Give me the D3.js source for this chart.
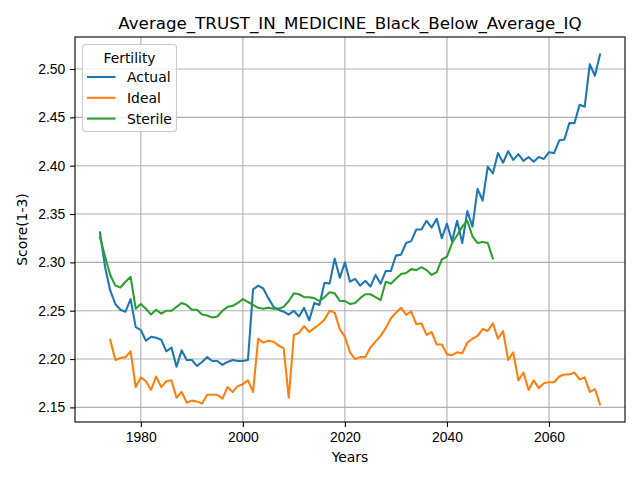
<!DOCTYPE html>
<html>
<head>
<meta charset="utf-8">
<script src="https://cdn.jsdelivr.net/npm/d3@7"></script>
<style>
  body { margin: 0; background: #fff; }
  svg { font-family: "DejaVu Sans", sans-serif; }
  .tick text { font-size: 13.9px; fill: #000; }
  .tick line { stroke: #000; stroke-width: 1.1; }
  .domain { display: none; }
  .grid line { stroke: #b0b0b0; stroke-width: 1.1; }
</style>
</head>
<body>
<svg id="canvas" width="640" height="480"></svg>
<script>
// Chart data
const title = "Average_TRUST_IN_MEDICINE_Black_Below_Average_IQ";
const seriesNames = ["Actual", "Ideal", "Sterile"];
const seriesColors = ["#1f77b4", "#ff7f0e", "#2ca02c"];
const xTicks = [1980, 2000, 2020, 2040, 2060];
const yTicks = [2.15, 2.2, 2.25, 2.3, 2.35, 2.4, 2.45, 2.5];

const actualStart = 1972;
const actual = [
  2.331, 2.295, 2.271, 2.257, 2.251, 2.249, 2.262, 2.233, 2.230, 2.219,
  2.223, 2.222, 2.220, 2.208, 2.212, 2.192, 2.209, 2.199, 2.199, 2.193,
  2.197, 2.202, 2.198, 2.198, 2.194, 2.197, 2.199, 2.198, 2.198, 2.199,
  2.272, 2.276, 2.273, 2.263, 2.254, 2.251, 2.249, 2.246, 2.250, 2.244,
  2.253, 2.240, 2.258, 2.256, 2.279, 2.278, 2.304, 2.284, 2.300, 2.280,
  2.283, 2.276, 2.281, 2.275, 2.287, 2.278, 2.291, 2.291, 2.307, 2.308,
  2.320, 2.322, 2.334, 2.334, 2.343, 2.336, 2.345, 2.325, 2.340, 2.322,
  2.343, 2.320, 2.353, 2.337, 2.376, 2.364, 2.399, 2.392, 2.413, 2.403,
  2.415, 2.406, 2.412, 2.405, 2.409, 2.404, 2.409, 2.407, 2.414, 2.413,
  2.426, 2.427, 2.444, 2.444, 2.463, 2.461, 2.505, 2.493, 2.515
];

const idealStart = 1974;
const ideal = [
  2.220, 2.199, 2.201, 2.202, 2.208, 2.171, 2.181, 2.177, 2.168, 2.182,
  2.171, 2.177, 2.178, 2.160, 2.166, 2.155, 2.157, 2.156, 2.154, 2.163,
  2.163, 2.163, 2.159, 2.171, 2.166, 2.172, 2.174, 2.178, 2.166, 2.221,
  2.217, 2.219, 2.218, 2.214, 2.211, 2.160, 2.225, 2.227, 2.234, 2.228,
  2.232, 2.236, 2.241, 2.250, 2.248, 2.231, 2.223, 2.207, 2.200, 2.202,
  2.202, 2.212, 2.218, 2.224, 2.232, 2.242, 2.248, 2.253, 2.246, 2.249,
  2.236, 2.237, 2.225, 2.228, 2.215, 2.215, 2.205, 2.204, 2.207, 2.206,
  2.217, 2.221, 2.224, 2.231, 2.229, 2.237, 2.221, 2.229, 2.199, 2.207,
  2.178, 2.186, 2.168, 2.178, 2.170, 2.175, 2.176, 2.176, 2.182, 2.184,
  2.184, 2.186, 2.179, 2.181, 2.166, 2.169, 2.153
];

const sterileStart = 1972;
const sterile = [
  2.326, 2.306, 2.287, 2.276, 2.274, 2.280, 2.285, 2.252, 2.257, 2.252,
  2.246, 2.251, 2.247, 2.250, 2.250, 2.254, 2.258, 2.256, 2.251, 2.251,
  2.246, 2.245, 2.243, 2.244, 2.250, 2.254, 2.255, 2.258, 2.262, 2.259,
  2.256, 2.253, 2.252, 2.253, 2.252, 2.252, 2.254, 2.260, 2.268, 2.267,
  2.264, 2.264, 2.263, 2.260, 2.264, 2.269, 2.268, 2.260, 2.260, 2.257,
  2.258, 2.263, 2.267, 2.267, 2.264, 2.261, 2.280, 2.278, 2.283, 2.288,
  2.289, 2.293, 2.292, 2.295, 2.292, 2.287, 2.290, 2.303, 2.306, 2.320,
  2.328, 2.337, 2.343, 2.327, 2.320, 2.321, 2.320, 2.304
];

// Canvas and plot area
const svg = d3.select("#canvas");
const w = 640;
const h = 480;
const [mt, mr, mb, ml] = [37, 15, 58, 75];

const toPoints = (values, start) => values.map((v, i) => ({ year: start + i, value: v }));
const series = [
  toPoints(actual, actualStart),
  toPoints(ideal, idealStart),
  toPoints(sterile, sterileStart),
];

// 5% margin around the data, like matplotlib
const allPts = series.flat();
const pad = (ext) => {
  const m = (ext[1] - ext[0]) * 0.05;
  return [ext[0] - m, ext[1] + m];
};

const x = d3.scaleLinear()
  .domain(pad(d3.extent(allPts, (d) => d.year)))
  .range([ml, w - mr]);
const y = d3.scaleLinear()
  .domain(pad(d3.extent(allPts, (d) => d.value)))
  .range([h - mb, mt]);

// Grid
const grid = svg.append("g").attr("class", "grid");
grid.selectAll("line.gx").data(xTicks).enter().append("line")
  .attr("class", "gx")
  .attr("x1", (d) => x(d)).attr("x2", (d) => x(d))
  .attr("y1", mt).attr("y2", h - mb);
grid.selectAll("line.gy").data(yTicks).enter().append("line")
  .attr("class", "gy")
  .attr("x1", ml).attr("x2", w - mr)
  .attr("y1", (d) => y(d)).attr("y2", (d) => y(d));

// Lines
const line = d3.line().x((d) => x(d.year)).y((d) => y(d.value));
svg.append("g")
  .selectAll("path")
  .data(series)
  .enter()
  .append("path")
  .attr("d", line)
  .attr("fill", "none")
  .attr("stroke", (d, i) => seriesColors[i])
  .attr("stroke-width", 2.08)
  .attr("stroke-linejoin", "round")
  .attr("stroke-linecap", "square");

// Axes
svg.append("g")
  .attr("transform", `translate(0, ${h - mb})`)
  .call(d3.axisBottom(x).tickValues(xTicks).tickFormat(d3.format("d")).tickSize(4.9).tickPadding(4.9));
svg.append("g")
  .attr("transform", `translate(${ml}, 0)`)
  .call(d3.axisLeft(y).tickValues(yTicks).tickFormat(d3.format(".2f")).tickSize(4.9).tickPadding(4.9));

// Frame
svg.append("rect")
  .attr("x", ml).attr("y", mt)
  .attr("width", w - ml - mr).attr("height", h - mt - mb)
  .attr("fill", "none").attr("stroke", "#000").attr("stroke-width", 1.1);

// Titles
svg.append("text")
  .attr("x", (ml + w - mr) / 2).attr("y", 29)
  .attr("text-anchor", "middle")
  .style("font-size", "16.7px")
  .text(title);
svg.append("text")
  .attr("x", (ml + w - mr) / 2).attr("y", 462)
  .attr("text-anchor", "middle")
  .style("font-size", "13.9px")
  .text("Years");
svg.append("text")
  .attr("transform", `translate(27, ${(mt + h - mb) / 2}) rotate(-90)`)
  .attr("text-anchor", "middle")
  .style("font-size", "13.9px")
  .text("Score(1-3)");

// Legend
const legend = svg.append("g").attr("transform", "translate(82.5, 44.5)");
legend.append("rect")
  .attr("width", 94).attr("height", 87)
  .attr("rx", 3).attr("ry", 3)
  .attr("fill", "#fff").attr("fill-opacity", 0.8)
  .attr("stroke", "#cccccc").attr("stroke-width", 1.1);
legend.append("text")
  .attr("x", 47).attr("y", 18)
  .attr("text-anchor", "middle")
  .style("font-size", "13.9px")
  .text("Fertility");
const item = legend.selectAll("g.item")
  .data(seriesNames)
  .enter()
  .append("g")
  .attr("class", "item")
  .attr("transform", (d, i) => `translate(0, ${32.5 + i * 20.8})`);
item.append("line")
  .attr("x1", 4.5).attr("x2", 33)
  .attr("stroke", (d, i) => seriesColors[i])
  .attr("stroke-width", 2.08);
item.append("text")
  .attr("x", 44.5).attr("y", 5)
  .style("font-size", "13.9px")
  .text((d) => d);
</script>
</body>
</html>
